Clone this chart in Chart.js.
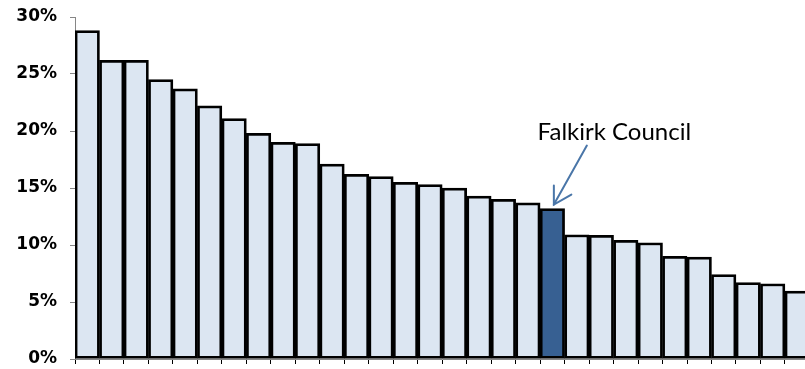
<!DOCTYPE html>
<html>
<head>
<meta charset="utf-8">
<script src="https://cdn.jsdelivr.net/npm/chart.js@4.4.1/dist/chart.umd.min.js"></script>
<style>
  html, body { margin: 0; padding: 0; background: #fff; overflow: hidden; }
  #wrap { position: relative; width: 812px; height: 369px; }
</style>
</head>
<body>
<div id="wrap"><canvas id="chart"></canvas></div>
<script>
// Councils ranked by share, highest first
const councils = [
  'Council 1', 'Council 2', 'Council 3', 'Council 4', 'Council 5',
  'Council 6', 'Council 7', 'Council 8', 'Council 9', 'Council 10',
  'Council 11', 'Council 12', 'Council 13', 'Council 14', 'Council 15',
  'Council 16', 'Council 17', 'Council 18', 'Council 19', 'Falkirk Council',
  'Council 21', 'Council 22', 'Council 23', 'Council 24', 'Council 25',
  'Council 26', 'Council 27', 'Council 28', 'Council 29', 'Council 30'
];
const shares = [
  28.8, 26.2, 26.2, 24.5, 23.7, 22.2, 21.1, 19.8, 19.0, 18.9,
  17.1, 16.2, 16.0, 15.5, 15.3, 15.0, 14.3, 14.0, 13.7, 13.2,
  10.9, 10.85, 10.4, 10.2, 9.0, 8.95, 7.4, 6.7, 6.6, 5.95
];
const yTicks = [0, 5, 10, 15, 20, 25, 30];
const highlighted = 'Falkirk Council';

const baseFill = '#dce6f2';
const highlightFill = '#376092';
const arrowColor = '#4a76a8';

const fills = councils.map(c => c === highlighted ? highlightFill : baseFill);

// Callout text with an open arrow pointing at the highlighted bar
const calloutPlugin = {
  id: 'callout',
  afterDatasetsDraw(chart) {
    const idx = councils.indexOf(highlighted);
    const bar = chart.getDatasetMeta(0).data[idx];
    const ctx = chart.ctx;
    const tipX = bar.x + 1.5;
    const tipY = bar.y - 4;
    const tailX = tipX + 33;
    const tailY = tipY - 59;
    ctx.save();
    ctx.strokeStyle = arrowColor;
    ctx.lineWidth = 2;
    ctx.lineCap = 'round';
    ctx.beginPath();
    ctx.moveTo(tailX, tailY);
    ctx.lineTo(tipX, tipY);
    ctx.stroke();
    // arrowhead arms
    ctx.beginPath();
    ctx.moveTo(tipX, tipY - 19);
    ctx.lineTo(tipX, tipY);
    ctx.lineTo(tipX + 17.5, tipY - 10);
    ctx.stroke();
    ctx.fillStyle = '#000';
    ctx.font = '24px Lato, "Open Sans", sans-serif';
    ctx.textAlign = 'center';
    ctx.textBaseline = 'alphabetic';
    ctx.fillText(highlighted, bar.x + 62, tipY - 65);
    ctx.restore();
  }
};

new Chart(document.getElementById('chart'), {
  type: 'bar',
  data: {
    labels: councils,
    datasets: [{
      data: shares,
      backgroundColor: fills,
      borderColor: '#000',
      borderWidth: 2.75,
      borderSkipped: false,
      categoryPercentage: 1.0,
      barPercentage: 1.0
    }]
  },
  options: {
    responsive: true,
    maintainAspectRatio: false,
    animation: false,
    layout: { padding: { top: 17, right: 2.6, bottom: 0, left: 0 } },
    plugins: {
      legend: { display: false },
      tooltip: { enabled: false }
    },
    scales: {
      x: {
        offset: true,
        grid: {
          offset: true,
          drawOnChartArea: false,
          drawTicks: true,
          tickLength: 5,
          color: '#000',
          lineWidth: 1
        },
        border: { display: true, color: '#868686', width: 1 },
        ticks: { display: false },
        afterFit(scale) { scale.height = 10; }
      },
      y: {
        min: 0,
        max: 30,
        afterBuildTicks(scale) { scale.ticks = yTicks.map(v => ({ value: v })); },
        grid: {
          drawOnChartArea: false,
          drawTicks: true,
          tickLength: 5,
          color: '#868686',
          lineWidth: 1
        },
        border: { display: true, color: '#868686', width: 1 },
        ticks: {
          padding: 13,
          color: '#000',
          font: { family: '"DejaVu Sans", Verdana, sans-serif', size: 17, weight: 'bold' },
          callback: v => v + '%'
        },
        afterFit(scale) {
          scale.width = 75;
          scale.paddingTop = 0;
          scale.paddingBottom = 0;
        }
      }
    }
  },
  plugins: [calloutPlugin]
});
</script>
</body>
</html>
